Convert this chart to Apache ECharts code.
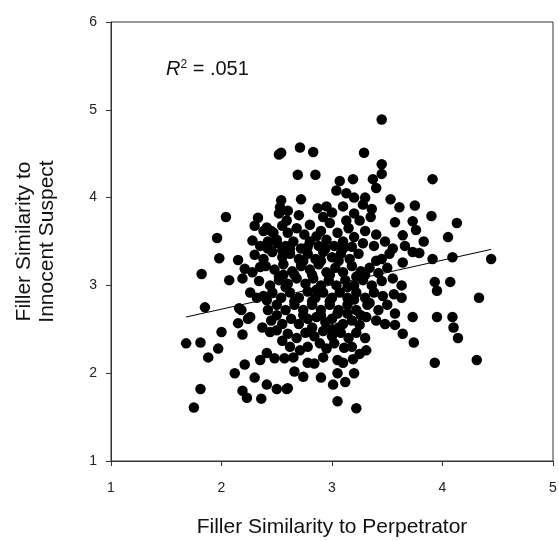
<!DOCTYPE html>
<html>
<head>
<meta charset="utf-8">
<script src="https://cdn.jsdelivr.net/npm/echarts@6/dist/echarts.min.js"></script>
<style>
  html, body { margin: 0; padding: 0; background: #fff; }
  #chart { width: 559px; height: 541px; }
</style>
</head>
<body>
<div id="chart"></div>
<script>
// x: similarity to perpetrator, y: similarity to innocent suspect
var perpScore = [
  3.45, 2.71, 2.83, 2.54, 3.29, 2.52, 2.69, 2.85, 3.45, 3.45, 3.19, 3.07, 3.37, 3.04, 3.13, 3.40,
  2.72, 3.20, 3.30, 3.53, 2.87, 3.00, 3.36, 3.61, 2.53, 2.59, 2.80, 3.13, 3.25, 3.57, 2.98, 3.91,
  3.75, 3.90, 3.73, 4.13, 2.04, 2.33, 2.54, 2.52, 2.41, 1.96, 2.28, 1.98, 2.15, 2.21, 1.82, 2.07,
  2.19, 2.35, 1.85, 2.16, 2.26, 2.26, 2.32, 2.41, 3.76, 3.64, 4.05, 3.83, 3.66, 3.73, 3.79, 3.64,
  3.91, 4.09, 4.44, 3.93, 4.07, 3.95, 3.63, 3.63, 4.33, 3.73, 3.95, 4.09, 4.10, 3.64, 3.74, 4.14,
  3.93, 4.31, 1.68, 1.81, 2.00, 1.88, 1.97, 2.19, 2.15, 2.24, 2.18, 2.21, 2.12, 2.30, 2.41, 2.50,
  2.60, 1.81, 2.19, 2.23, 2.36, 1.75, 2.37, 2.44, 2.50, 2.55, 2.35, 2.41, 2.48, 2.57, 2.86, 3.05,
  3.31, 3.57, 3.57, 3.31, 3.11, 3.19, 3.20, 3.05, 3.05, 3.01, 2.74, 2.59, 3.05, 3.22, 2.84, 2.71,
  2.89,
  2.45, 2.60, 2.68, 2.75, 2.90, 3.05, 3.15, 3.30, 3.40, 2.55, 3.20,
  2.35, 2.42, 2.50, 2.58, 2.65, 2.72, 2.80, 2.88, 2.95, 3.02, 3.10, 3.18, 3.28, 3.38, 3.48, 3.55,
  2.30, 2.38, 2.46, 2.55, 2.62, 2.70, 2.78, 2.85, 2.92, 3.00, 3.08, 3.16, 3.24, 3.45, 3.52,
  2.28, 2.40, 2.48, 2.56, 2.64, 2.72, 2.80, 2.88, 2.95, 3.03, 3.10, 3.18, 3.26, 3.34, 3.42, 3.50, 2.52,
  2.34, 2.44, 2.52, 2.60, 2.68, 2.76, 2.83, 2.90, 2.97, 3.04, 3.12, 3.20, 3.28, 3.36, 3.45, 3.55, 2.86,
  2.38, 2.46, 2.54, 2.62, 2.70, 2.78, 2.85, 2.92, 3.00, 3.07, 3.14, 3.22, 3.30, 3.38, 3.46, 3.56,
  2.42, 2.50, 2.58, 2.66, 2.74, 2.82, 2.90, 2.98, 3.06, 3.14, 3.22, 3.32, 3.42, 3.50,
  2.45, 2.55, 2.63, 2.70, 2.78, 2.94, 3.00, 3.10, 3.18, 3.25, 3.40, 3.48,
  2.60, 2.68, 2.76, 2.84, 2.92, 3.00, 3.08, 3.15, 3.22, 3.30,
  2.62, 2.78, 2.95, 3.02, 3.18, 3.25,
  2.65, 2.78, 2.92, 3.10,
  2.66, 2.90, 3.12,
  3.10, 3.20, 3.28, 2.92, 3.35, 2.60, 2.70, 2.95,
  2.30, 2.38, 2.47, 2.50, 2.42, 2.55,
  2.66, 2.74, 2.82, 2.90, 2.98, 3.06, 3.14, 2.58, 2.66, 2.82, 2.98, 3.14, 2.74, 2.90, 3.06,
  2.82, 3.22, 3.30, 2.56, 2.62, 2.78, 2.94, 3.10, 3.20, 3.34, 2.50, 3.40, 3.00, 2.86, 3.26
];
var innocentScore = [
  4.89, 4.57, 4.52, 4.51, 4.51, 4.49, 4.26, 4.26, 4.38, 4.27, 4.21, 4.19, 4.21, 4.08, 4.05, 4.11,
  3.98, 4.00, 4.00, 3.98, 3.88, 3.83, 3.87, 3.89, 3.89, 3.74, 3.69, 3.74, 3.74, 3.72, 3.71, 4.21,
  3.91, 3.79, 3.73, 3.71, 3.78, 3.77, 3.97, 3.82, 3.66, 3.54, 3.51, 3.31, 3.29, 3.19, 3.13, 3.06,
  3.08, 3.21, 2.75, 2.74, 2.64, 2.92, 2.86, 2.83, 3.63, 3.57, 3.55, 3.50, 3.45, 3.38, 3.37, 3.26,
  3.30, 3.32, 3.30, 3.04, 3.04, 2.94, 3.00, 2.86, 2.86, 2.64, 2.64, 2.64, 2.52, 2.45, 2.35, 2.40,
  2.12, 2.15, 2.34, 2.35, 2.47, 2.18, 2.28, 2.44, 2.57, 2.62, 2.72, 2.10, 2.00, 1.95, 1.87, 1.82,
  1.83, 1.82, 1.80, 1.72, 1.71, 1.61, 2.52, 2.47, 2.49, 2.37, 2.15, 2.23, 2.17, 2.17, 2.64, 2.68,
  2.64, 2.68, 2.55, 2.26, 2.29, 2.16, 2.00, 2.15, 2.00, 1.87, 1.96, 1.82, 1.68, 1.60, 2.11, 2.26,
  2.34,
  3.62, 3.60, 3.65, 3.58, 3.62, 3.60, 3.65, 3.62, 3.58, 3.68, 3.55,
  3.45, 3.50, 3.52, 3.45, 3.50, 3.42, 3.50, 3.45, 3.52, 3.45, 3.50, 3.44, 3.48, 3.45, 3.50, 3.42,
  3.35, 3.30, 3.38, 3.32, 3.36, 3.30, 3.36, 3.30, 3.38, 3.32, 3.36, 3.30, 3.36, 3.30, 3.36,
  3.15, 3.22, 3.18, 3.24, 3.16, 3.22, 3.18, 3.24, 3.15, 3.20, 3.15, 3.22, 3.16, 3.20, 3.14, 3.20, 3.10,
  3.05, 3.00, 3.06, 3.02, 3.08, 3.02, 3.08, 3.00, 3.06, 3.00, 3.06, 3.00, 3.06, 3.00, 3.05, 3.08, 2.95,
  2.88, 2.92, 2.86, 2.92, 2.86, 2.93, 2.86, 2.92, 2.86, 2.92, 2.86, 2.92, 2.86, 2.92, 2.88, 2.90,
  2.72, 2.78, 2.72, 2.78, 2.72, 2.78, 2.72, 2.78, 2.72, 2.78, 2.72, 2.78, 2.72, 2.78,
  2.60, 2.56, 2.62, 2.56, 2.62, 2.58, 2.62, 2.56, 2.60, 2.55, 2.60, 2.56,
  2.45, 2.40, 2.46, 2.42, 2.48, 2.42, 2.46, 2.40, 2.46, 2.40,
  2.30, 2.30, 2.28, 2.34, 2.30, 2.22,
  2.18, 2.12, 2.18, 2.12,
  2.02, 1.95, 1.90,
  3.90, 3.82, 3.92, 3.78, 3.78, 3.85, 3.80, 3.90,
  3.68, 3.62, 3.60, 3.48, 3.42, 3.40,
  3.12, 3.28, 3.12, 3.28, 3.12, 3.28, 2.98, 2.98, 2.82, 2.82, 2.82, 2.68, 2.66, 2.66, 2.52,
  2.52, 3.10, 3.12, 3.12, 3.42, 3.44, 3.42, 3.42, 2.84, 2.80, 2.66, 3.28, 2.50, 3.56, 2.66
];
// fitted regression line ends
var fitX = [1.68, 4.44];
var fitY = [2.64, 3.41];

var points = perpScore.map(function (x, i) { return [x, innocentScore[i]]; });
var fitLine = fitX.map(function (x, i) { return [x, fitY[i]]; });

var font = 'Liberation Sans, Arial, sans-serif';

echarts.init(document.getElementById('chart')).setOption({
    animation: false,
    grid: {
        left: 111, top: 22, width: 442, height: 439,
        outerBoundsMode: 'none',
        show: true, borderColor: '#333', borderWidth: 1
    },
    xAxis: {
        type: 'value', min: 1, max: 5, interval: 1,
        name: 'Filler Similarity to Perpetrator',
        nameLocation: 'middle', nameGap: 56,
        nameTextStyle: { fontFamily: font, fontSize: 21, color: '#111' },
        axisLine: { lineStyle: { color: '#333' } },
        axisTick: { length: 5, lineStyle: { color: '#333' } },
        axisLabel: { fontFamily: font, fontSize: 14, color: '#222', margin: 20 },
        splitLine: { show: false }
    },
    yAxis: {
        type: 'value', min: 1, max: 6, interval: 1,
        name: 'Filler Similarity to\nInnocent Suspect',
        nameLocation: 'middle', nameGap: 52, nameRotate: 90,
        nameTextStyle: { fontFamily: font, fontSize: 21, color: '#111', lineHeight: 23 },
        axisLine: { show: true, lineStyle: { color: '#333' } },
        axisTick: { show: true, length: 5, lineStyle: { color: '#333' } },
        axisLabel: { fontFamily: font, fontSize: 14, color: '#222', margin: 14 },
        splitLine: { show: false }
    },
    graphic: [{
        type: 'text', left: 166, top: 59,
        style: {
            text: '{r|R}{s|2}{n| = .051}',
            rich: {
                r: { fontFamily: font, fontSize: 20, fontStyle: 'italic', fill: '#111' },
                s: { fontFamily: font, fontSize: 12, fill: '#111', verticalAlign: 'top', padding: [0, 0, 8, 0] },
                n: { fontFamily: font, fontSize: 20, fill: '#111' }
            }
        }
    }],
    series: [{
        type: 'scatter',
        data: points,
        symbolSize: 10.5,
        itemStyle: { color: '#000', opacity: 1 }
    }, {
        type: 'line',
        data: fitLine,
        symbol: 'none',
        lineStyle: { color: '#000', width: 1 },
        z: 3
    }]
});
</script>
</body>
</html>
